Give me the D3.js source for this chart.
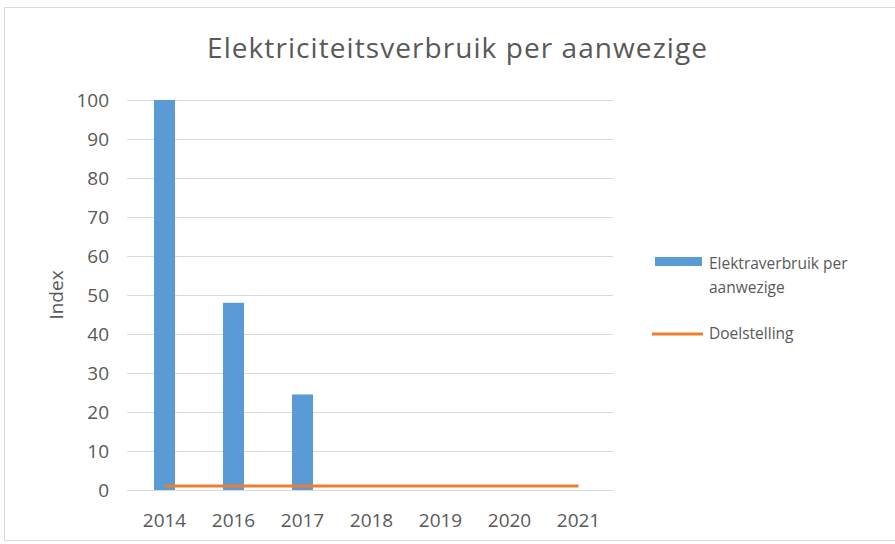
<!DOCTYPE html>
<html>
<head>
<meta charset="utf-8">
<script src="https://cdn.jsdelivr.net/npm/d3@7"></script>
<style>
  body { margin: 0; background: #fff; }
  svg text { font-family: "Open Sans", "DejaVu Sans", sans-serif; fill: #595959; }
</style>
</head>
<body>
<script>
// chart data
var categories = ["2014", "2016", "2017", "2018", "2019", "2020", "2021"];
var verbruik = [100, 48, 24.5, null, null, null, null];
var doelstelling = [1, 1, 1, 1, 1, 1, 1];
var yTicks = [0, 10, 20, 30, 40, 50, 60, 70, 80, 90, 100];

var W = 895, H = 544;
var plot = { left: 130, right: 613, top: 100, bottom: 490 };

var svg = d3.select("body").append("svg")
    .attr("width", W)
    .attr("height", H);

// outer chart frame
svg.append("rect")
    .attr("x", 4.5).attr("y", 7.5)
    .attr("width", 900).attr("height", 533)
    .attr("fill", "#fff")
    .attr("stroke", "#d9d9d9");

var x = d3.scaleBand()
    .domain(categories)
    .range([plot.left, plot.right]);

var y = d3.scaleLinear()
    .domain([0, 100])
    .range([plot.bottom, plot.top]);

// gridlines
svg.append("g").selectAll("line")
    .data(yTicks)
    .enter().append("line")
    .attr("x1", plot.left - 3).attr("x2", plot.right)
    .attr("y1", function (d) { return Math.round(y(d)) + 0.5; })
    .attr("y2", function (d) { return Math.round(y(d)) + 0.5; })
    .attr("stroke", "#d9d9d9")
    .attr("stroke-width", 1);

// y axis labels
var yAxis = d3.axisLeft(y).tickValues(yTicks).tickSize(0).tickPadding(0);
var gy = svg.append("g")
    .attr("transform", "translate(109,0)")
    .call(yAxis);
gy.select(".domain").remove();
gy.selectAll("text")
    .attr("font-size", 19)
    .attr("dy", "0.36em")
    .style("font-family", "'Open Sans', sans-serif")
    .attr("fill", "#595959");

// x axis labels
var xAxis = d3.axisBottom(x).tickSize(0).tickPadding(0);
var gx = svg.append("g")
    .attr("transform", "translate(0,520)")
    .call(xAxis);
gx.select(".domain").remove();
gx.selectAll("text")
    .attr("font-size", 19)
    .attr("dy", "0.36em")
    .attr("fill", "#595959");

// bars
var barW = 21;
svg.append("g").selectAll("rect")
    .data(verbruik.map(function (v, i) { return { cat: categories[i], v: v }; })
        .filter(function (d) { return d.v != null; }))
    .enter().append("rect")
    .attr("x", function (d) { return x(d.cat) + x.bandwidth() / 2 - barW / 2; })
    .attr("y", function (d) { return y(d.v); })
    .attr("width", barW)
    .attr("height", function (d) { return y(0) - y(d.v); })
    .attr("fill", "#5b9bd5");

// target line
var line = d3.line()
    .x(function (d, i) { return x(categories[i]) + x.bandwidth() / 2; })
    .y(function (d) { return y(d); });

svg.append("path")
    .datum(doelstelling)
    .attr("d", line)
    .attr("fill", "none")
    .attr("stroke", "#ed7d31")
    .attr("stroke-width", 3);

// title
svg.append("text")
    .attr("x", 457).attr("y", 58)
    .attr("text-anchor", "middle")
    .attr("font-size", 28)
    .attr("textLength", 500)
    .attr("lengthAdjust", "spacing")
    .text("Elektriciteitsverbruik  per aanwezige");

// y axis title
svg.append("text")
    .attr("transform", "translate(63,295) rotate(-90)")
    .attr("text-anchor", "middle")
    .attr("font-size", 19)
    .text("Index");

// legend
var lg = svg.append("g");
lg.append("rect")
    .attr("x", 655).attr("y", 257)
    .attr("width", 47).attr("height", 9)
    .attr("fill", "#5b9bd5");
lg.append("text")
    .attr("x", 709).attr("y", 269)
    .attr("font-size", 15.5)
    .text("Elektraverbruik per");
lg.append("text")
    .attr("x", 709).attr("y", 293)
    .attr("font-size", 15.5)
    .text("aanwezige");
lg.append("line")
    .attr("x1", 652).attr("x2", 703)
    .attr("y1", 334).attr("y2", 334)
    .attr("stroke", "#ed7d31")
    .attr("stroke-width", 3);
lg.append("text")
    .attr("x", 709).attr("y", 339)
    .attr("font-size", 15.5)
    .text("Doelstelling");
</script>
</body>
</html>
